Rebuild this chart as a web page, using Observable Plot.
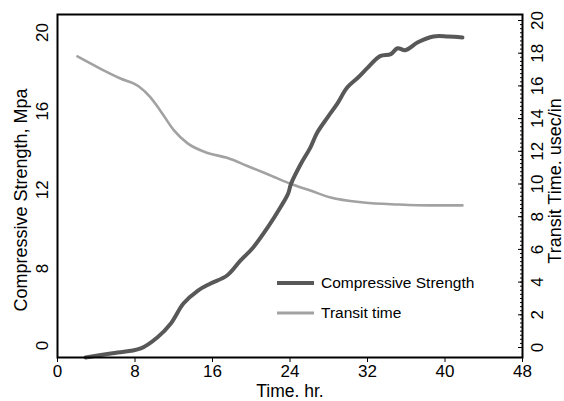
<!DOCTYPE html>
<html><head><meta charset="utf-8">
<script src="https://cdn.jsdelivr.net/npm/d3@7"></script>
<script src="https://cdn.jsdelivr.net/npm/@observablehq/plot@0.6"></script>
<style>body{margin:0;background:#fff} svg{display:block}</style>
</head><body><div id="chart"></div>
<script>
// ---- data ----
const strengthHours = [2.9, 5.5, 8.6, 10.3, 11.7, 13.0, 14.5, 15.8, 17.5, 18.9, 20.2, 21.7, 23.0, 23.8, 24.1, 25.1, 26.1, 26.8, 27.9, 28.9, 29.9, 31.0, 32.0, 33.3, 34.4, 35.1, 35.9, 37.2, 38.8, 40.3, 41.8];
const strengthMpa   = [-1.25, -0.83, -0.31, 0.83, 2.29, 4.36, 5.71, 6.44, 7.27, 8.41, 9.07, 10.09, 11.1, 11.8, 12.3, 13.3, 14.15, 14.9, 15.7, 16.4, 17.2, 17.7, 18.2, 18.8, 18.9, 19.2, 19.1, 19.5, 19.8, 19.8, 19.75];
const transitHours    = [2.06, 4.4, 6.5, 8.4, 9.6, 10.6, 12.0, 13.4, 15.5, 17.5, 19.6, 21.7, 24.1, 26.1, 28.2, 31.6, 35.1, 38.5, 41.8];
const transitUsecPerIn = [17.8, 17.06, 16.45, 15.96, 15.3, 14.5, 13.3, 12.5, 11.9, 11.6, 11.1, 10.6, 10.0, 9.6, 9.17, 8.87, 8.75, 8.69, 8.69];
const timeTicks = [0, 8, 16, 24, 32, 40, 48];
const strengthTicks = [0, 8, 12, 16, 20];
const transitTicks = [0, 2, 4, 6, 8, 10, 12, 14, 16, 18, 20];
const transitMinorStep = 0.25;
const seriesNames = ["Compressive Strength", "Transit time"];
const xTitle = "Time. hr.";
const yLeftTitle = "Compressive Strength, Mpa";
const yRightTitle = "Transit Time. usec/in";

// ---- layout / scales ----
const W = 564, H = 401;
const FONT = "'Liberation Sans', Arial, Helvetica, sans-serif";
// Plot's y scale is the right (transit) axis; the left axis in the reference is
// labelled unevenly (20,16,12,8 then 0), so strength maps piecewise onto it.
const transitRange = [347, 20];
const tS = d3.scaleLinear([0, 20], transitRange);
const sS = d3.scaleLinear([0, 8, 20], [345, 268, 32]);
const strengthToY = v => tS.invert(sS(v));

const strength = strengthHours.map((t, i) => ({t, v: strengthToY(strengthMpa[i])}));
const transit = transitHours.map((t, i) => ({t, v: transitUsecPerIn[i]}));
const minorTicks = d3.range(0, 20 + 1e-9, transitMinorStep);

const darkColor = "#585858", lightColor = "#a2a2a2";
const txt = {fill: "#000", textAnchor: "middle", lineAnchor: "middle"};

const svg = Plot.plot({
  width: W, height: H,
  marginLeft: 57, marginRight: 42, marginTop: 14, marginBottom: 44,
  style: {fontFamily: FONT, fontSize: "17px", color: "#000", background: "#fff"},
  x: {domain: [0, 48], axis: null},
  y: {domain: [0, 20], range: transitRange, axis: null},
  marks: [
    Plot.line(transit, {x: "t", y: "v", stroke: lightColor, strokeWidth: 2.6, curve: "monotone-x"}),
    Plot.line(strength, {x: "t", y: "v", stroke: darkColor, strokeWidth: 4, curve: "catmull-rom", strokeLinejoin: "round"}),
    Plot.frame({stroke: "#000", strokeWidth: 2}),
    Plot.axisX({ticks: timeTicks, tickSize: 5, tickPadding: 2, fontSize: 17, label: null, stroke: "#000"}),
    Plot.axisY({anchor: "right", ticks: minorTicks, tickSize: 3, dx: -3, tickFormat: () => "", label: null, stroke: "#000"}),
    Plot.axisY({anchor: "right", ticks: transitTicks, tickSize: 5, dx: -5, tickFormat: () => "", label: null, stroke: "#000"}),
    Plot.text(strengthTicks, {...txt, y: d => strengthToY(d), text: d => String(d), frameAnchor: "left", rotate: -90, dx: -15, fontSize: 17}),
    Plot.text(transitTicks, {...txt, y: d => d, text: d => String(d), frameAnchor: "right", rotate: -90, dx: 15, fontSize: 17}),
    Plot.text([xTitle], {...txt, text: d => d, frameAnchor: "bottom", dy: 34, fontSize: 17.5}),
    Plot.text([yLeftTitle], {...txt, text: d => d, frameAnchor: "left", rotate: -90, dx: -36, dy: 14, fontSize: 18}),
    Plot.text([yRightTitle], {...txt, text: d => d, frameAnchor: "right", rotate: -90, dx: 33, dy: -5, fontSize: 18})
  ]
});

// legend inside the plot area
const lg = d3.select(svg).append("g").attr("font-family", FONT).attr("font-size", 15.5).attr("text-anchor", "start");
const legendItems = [
  {name: seriesNames[0], color: darkColor, w: 4, y: 283},
  {name: seriesNames[1], color: lightColor, w: 3, y: 313}
];
for (const it of legendItems) {
  lg.append("line").attr("x1", 277).attr("x2", 314).attr("y1", it.y).attr("y2", it.y)
    .attr("stroke", it.color).attr("stroke-width", it.w);
  lg.append("text").attr("x", 321).attr("y", it.y).attr("dy", "0.35em").attr("fill", "#000").text(it.name);
}
document.getElementById("chart").append(svg);
</script>
</body></html>
